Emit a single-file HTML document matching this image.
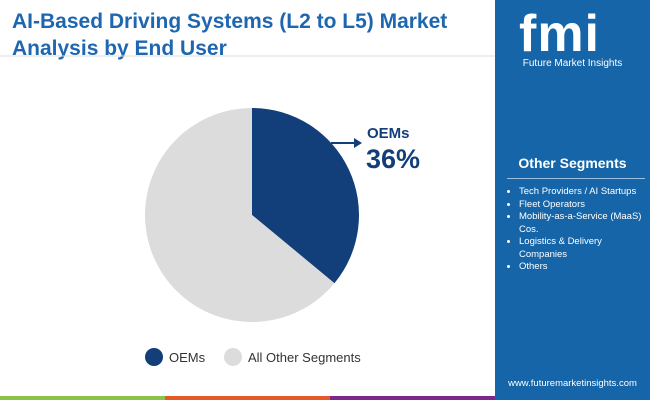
<!DOCTYPE html>
<html><head><meta charset="utf-8"><style>
body{margin:0;width:650px;height:400px;position:relative;overflow:hidden;background:#fff;font-family:"Liberation Sans",sans-serif}
#title{position:absolute;left:12px;top:8px;font-size:21px;font-weight:bold;color:#1e67b0;line-height:27px}
#panel{position:absolute;left:495px;top:0;width:155px;height:400px;background:#1565a8}
li{margin:0}
</style></head><body>
<div id="title">AI-Based Driving Systems (L2 to L5) Market<br>Analysis by End User</div>
<svg width="650" height="400" style="position:absolute;left:0;top:0">
<line x1="0" y1="56" x2="495" y2="56" stroke="#ddd" stroke-width="1"/>
<g id="pie"></g>
<line x1="331" y1="143" x2="356" y2="143" stroke="#123f7a" stroke-width="2"/>
<polygon points="362,143 354,138 354,148" fill="#123f7a"/>
<text x="367" y="138" font-size="15" font-weight="bold" fill="#123f7a">OEMs</text>
<text x="366" y="168" font-size="27" font-weight="bold" fill="#123f7a">36%</text>
<circle cx="154" cy="357" r="9" fill="#123f7a"/>
<text x="169" y="362" font-size="13" fill="#333">OEMs</text>
<circle cx="233" cy="357" r="9" fill="#dcdcdc"/>
<text x="248" y="362" font-size="13" fill="#333">All Other Segments</text>
<rect x="0" y="396" width="165" height="4" fill="#8bc34a"/>
<rect x="165" y="396" width="165" height="4" fill="#e55a2b"/>
<rect x="330" y="396" width="165" height="4" fill="#7b2a8a"/>
</svg>
<div id="panel">
<div style="position:absolute;left:24px;top:4px;font-size:52px;font-weight:bold;color:#fff;letter-spacing:1px">fmi</div>
<div style="position:absolute;left:0;width:155px;top:58px;text-align:center;font-size:10px;color:#fff">Future Market Insights</div>
<div style="position:absolute;left:0;width:155px;top:155px;text-align:center;font-size:14px;font-weight:bold;color:#fff">Other Segments</div>
<div style="position:absolute;left:12px;top:178px;width:138px;height:1px;background:#9bbfe0"></div>
<ul style="position:absolute;left:10px;top:186px;margin:0;padding-left:14px;font-size:9.5px;line-height:12.5px;color:#fff;width:126px">
<li>Tech Providers / AI Startups</li><li>Fleet Operators</li><li>Mobility-as-a-Service (MaaS) Cos.</li><li>Logistics &amp; Delivery Companies</li><li>Others</li></ul>
<div style="position:absolute;left:0;width:155px;top:378px;text-align:center;font-size:9.5px;color:#fff">www.futuremarketinsights.com</div>
</div>
<script>
const categories=["OEMs","All Other Segments"];
const values=[36,64];
const colors=["#123f7a","#dcdcdc"];
const cx=252,cy=215,r=107;
const g=document.getElementById('pie');
const total=values.reduce((a,b)=>a+b,0);
let a0=0;
values.forEach((v,i)=>{
 const a1=a0+v/total*2*Math.PI;
 const p=t=>[cx+r*Math.sin(t),cy-r*Math.cos(t)];
 const [x0,y0]=p(a0),[x1,y1]=p(a1);
 const path=document.createElementNS('http://www.w3.org/2000/svg','path');
 path.setAttribute('d',`M${cx},${cy}L${x0},${y0}A${r},${r} 0 ${a1-a0>Math.PI?1:0} 1 ${x1},${y1}Z`);
 path.setAttribute('fill',colors[i]);
 
 
 g.appendChild(path);
 a0=a1;
});
</script>
</body></html>
